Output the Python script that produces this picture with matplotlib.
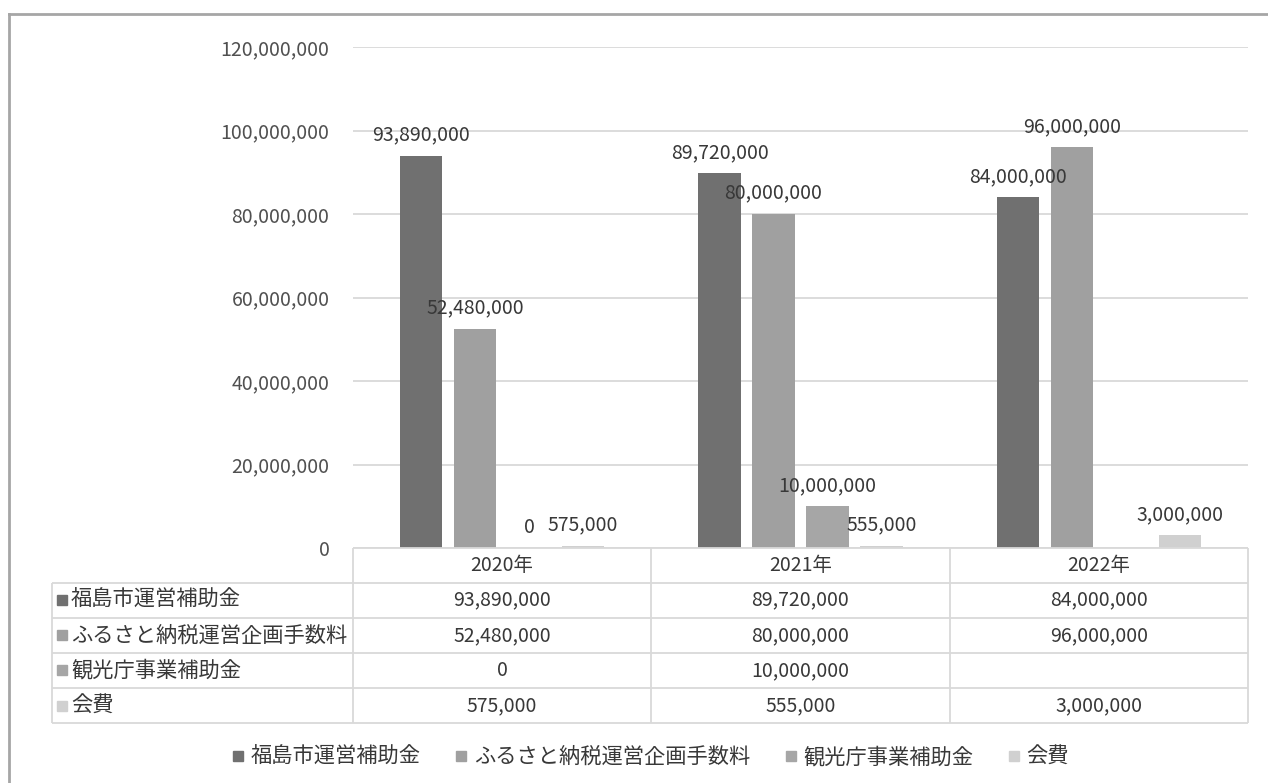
import matplotlib
matplotlib.use('Agg')
import matplotlib.pyplot as plt
from matplotlib.lines import Line2D

plt.rcParams['font.family'] = ['Noto Sans CJK JP', 'DejaVu Sans']

# ---- data ----
years = ['2020年', '2021年', '2022年']
series_names = ['福島市運営補助金', 'ふるさと納税運営企画手数料', '観光庁事業補助金', '会費']
fukushima = [93890000, 89720000, 84000000]
furusato = [52480000, 80000000, 96000000]
kankocho = [0, 10000000, None]
kaihi = [575000, 555000, 3000000]
series_values = [fukushima, furusato, kankocho, kaihi]
yticks = [0, 20000000, 40000000, 60000000, 80000000, 100000000, 120000000]

# ---- style ----
colors = ['#707070', '#a0a0a0', '#a6a6a6', '#d0d0d0']
text_color = '#383838'
tick_color = '#505050'
grid_color = '#d9d9d9'
num_size = 14
jp_size = 15.3

W, H = 1268, 783
fig = plt.figure(figsize=(W / 100, H / 100), dpi=100)


def fx(px):
    return px / W


def fy(py):
    return 1 - py / H


# main bar axes
ax = fig.add_axes([fx(353), fy(548), fx(1248) - fx(353), fy(47) - fy(548)])
ax.set_xlim(-0.5, len(years) - 0.5)
ax.set_ylim(0, 120000000)

step, width = 0.181, 0.142
for i, vals in enumerate(series_values):
    for j, v in enumerate(vals):
        if v is None:
            continue
        x = j + (i - 1.5) * step
        ax.bar(x, v, width=width, color=colors[i], zorder=3)
        ax.annotate(f'{v:,}', (x, v), xytext=(0, 15), textcoords='offset points',
                    ha='center', va='center', fontsize=num_size, color=text_color,
                    zorder=6)

ax.set_yticks(yticks)
ax.set_yticklabels([f'{t:,}' for t in yticks], fontsize=num_size, color=tick_color)
ax.set_xticks([])
ax.yaxis.grid(True, color=grid_color, lw=1.3, zorder=0)
ax.tick_params(axis='y', length=0, pad=17)
for s in ax.spines.values():
    s.set_visible(False)

# overlay in pixel coordinates for the data table and frame
ov = fig.add_axes([0, 0, 1, 1])
ov.set_xlim(0, W)
ov.set_ylim(H, 0)
ov.axis('off')
ov.patch.set_alpha(0)

col_px = [ax.transData.transform((c - 0.5, 0))[0] for c in range(len(years) + 1)]
table_left = 52
header_top, header_bot = 548, 582.7
row_h = 35.1
row_edges = [header_bot + k * row_h for k in range(len(series_names) + 1)]
line_kw = dict(color=grid_color, lw=1.3, solid_capstyle='butt')

ov.plot([col_px[0], col_px[-1]], [header_top, header_top], **line_kw)
for y in row_edges:
    ov.plot([table_left, col_px[-1]], [y, y], **line_kw)
ov.plot([table_left, table_left], [row_edges[0], row_edges[-1]], **line_kw)
for x in col_px:
    ov.plot([x, x], [header_top, row_edges[-1]], **line_kw)

for j, yr in enumerate(years):
    cx = (col_px[j] + col_px[j + 1]) / 2
    ov.text(cx, (header_top + header_bot) / 2, yr, ha='center', va='center',
            fontsize=num_size, color=text_color)

for i, name in enumerate(series_names):
    cy = (row_edges[i] + row_edges[i + 1]) / 2
    ov.plot([62], [cy], marker='s', ms=6.5, color=colors[i], ls='')
    ov.text(71, cy, name, ha='left', va='center', fontsize=jp_size, color=text_color)
    for j, v in enumerate(series_values[i]):
        if v is None:
            continue
        cx = (col_px[j] + col_px[j + 1]) / 2
        ov.text(cx, cy, f'{v:,}', ha='center', va='center',
                fontsize=num_size, color=text_color)

# chart frame
ov.plot([9, W], [14, 14], color='#a6a6a6', lw=2)
ov.plot([9, 9], [14, H], color='#a6a6a6', lw=2)

# legend
handles = [Line2D([], [], marker='s', ls='', color=c, ms=7) for c in colors]
leg = fig.legend(handles, series_names, loc='center', bbox_to_anchor=(fx(650), fy(757)),
                 ncol=4, frameon=False, fontsize=jp_size, handlelength=0.7,
                 handletextpad=0.25, columnspacing=1.55)
for t in leg.get_texts():
    t.set_color(text_color)

fig.savefig('out.png', dpi=100, facecolor='white')
